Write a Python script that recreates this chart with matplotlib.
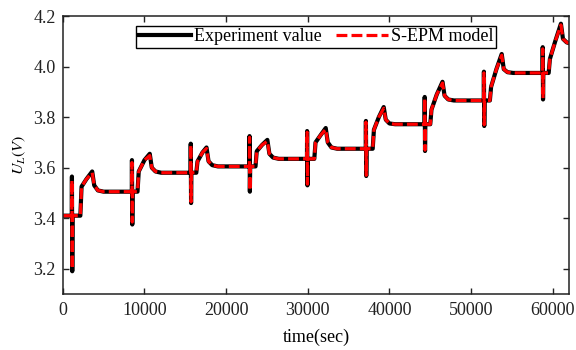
import matplotlib
matplotlib.use("Agg")
import matplotlib.pyplot as plt

plt.rcParams['font.family'] = ['Liberation Serif', 'DejaVu Serif']
plt.rcParams['mathtext.fontset'] = 'stix'

# ---- data (time in s, voltage in V) ----
start_level = 3.41
spike_t   = [1100, 8450, 15650, 22850, 29900, 37100, 44300, 51550, 58750]
spike_top = [3.565, 3.63, 3.695, 3.725, 3.745, 3.785, 3.88, 3.98, 4.077]
spike_bot = [3.19, 3.375, 3.46, 3.505, 3.53, 3.567, 3.666, 3.765, 3.87]
step_t    = [2150, 9150, 16350, 23600, 30800, 37950, 45000, 52300, 59500]
jump_v    = [3.525, 3.585, 3.625, 3.665, 3.70, 3.75, 3.83, 3.92, 4.03]
mid_t     = [2900, 10000, 17100, 24400, 31600, 38700, 45800, 53100, 60300]
mid_v     = [3.555, 3.63, 3.66, 3.69, 3.73, 3.80, 3.89, 3.99, 4.10]
peak_t    = [3600, 10650, 17600, 25050, 32200, 39300, 46500, 53750, 61000]
peak_v    = [3.585, 3.655, 3.68, 3.71, 3.757, 3.84, 3.94, 4.05, 4.17]
relax1_v  = [3.53, 3.60, 3.625, 3.655, 3.70, 3.79, 3.885, 3.99, 4.11]
relax2_v  = [3.51, 3.585, 3.61, 3.64, 3.68, 3.775, 3.87, 3.978, 4.096]
level_v   = [3.505, 3.58, 3.605, 3.635, 3.675, 3.772, 3.866, 3.975, 4.093]

# model (S-EPM) values: nearly identical, slightly smoother peaks
model_peak_v = [3.58, 3.648, 3.676, 3.705, 3.752, 3.835, 3.935, 4.045, 4.165]
model_top    = [3.55, 3.62, 3.69, 3.72, 3.74, 3.78, 3.875, 3.975, 4.07]
model_bot    = [3.20, 3.385, 3.465, 3.51, 3.535, 3.57, 3.67, 3.77, 3.875]

x_ticks = [0, 10000, 20000, 30000, 40000, 50000, 60000]
y_ticks = [3.2, 3.4, 3.6, 3.8, 4.0, 4.2]


def build(tops, bots, peaks):
    t, v = [0], [start_level]
    prev = start_level
    for i in range(len(spike_t)):
        ts = spike_t[i]
        t += [ts, ts + 20, ts + 60, ts + 100, step_t[i], step_t[i] + 150,
              mid_t[i], peak_t[i], peak_t[i] + 250, peak_t[i] + 700,
              min(peak_t[i] + 1400, 62000)]
        v += [prev, tops[i], bots[i], prev, prev, jump_v[i],
              mid_v[i], peaks[i], relax1_v[i], relax2_v[i], level_v[i]]
        prev = level_v[i]
    return t, v


t_exp, v_exp = build(spike_top, spike_bot, peak_v)
t_mod, v_mod = build(model_top, model_bot, model_peak_v)

fig = plt.figure(figsize=(5.76, 3.5), dpi=100)
ax = fig.add_axes([0.109, 0.16, 0.879, 0.794])

ax.plot(t_exp, v_exp, color='black', lw=3.0, solid_joinstyle='round',
        label='Experiment value')
ax.plot(t_mod, v_mod, color='#ff0000', lw=2.3, dashes=(3.4, 1.3),
        label='S-EPM model')

ax.set_xlim(0, 62000)
ax.set_ylim(3.1, 4.2)
ax.set_xticks(x_ticks)
ax.set_yticks(y_ticks)
ax.set_xticklabels([str(x) for x in x_ticks])
ax.set_yticklabels([f'{y:.1f}' for y in y_ticks])
ax.tick_params(direction='in', length=4, width=1.0, labelsize=13,
               top=True, right=True, colors='#222222', labelcolor='#222222')
ax.tick_params(axis='x', pad=6)
ax.tick_params(axis='y', pad=5)
for s in ax.spines.values():
    s.set_linewidth(1.1)
    s.set_color('#222222')

ax.set_xlabel('time(sec)', fontsize=13, labelpad=7)
ax.set_ylabel(r'$U_L(V)$', fontsize=11.5, labelpad=4)

leg = ax.legend(loc='upper center', bbox_to_anchor=(0.5, 0.985), ncol=2,
                fontsize=13, frameon=True, fancybox=False, framealpha=1,
                edgecolor='black', handlelength=2.9, handletextpad=0.15,
                columnspacing=0.8, borderpad=0.15, borderaxespad=0.3)
leg.get_frame().set_linewidth(1.0)

fig.savefig('out.png', dpi=100)
